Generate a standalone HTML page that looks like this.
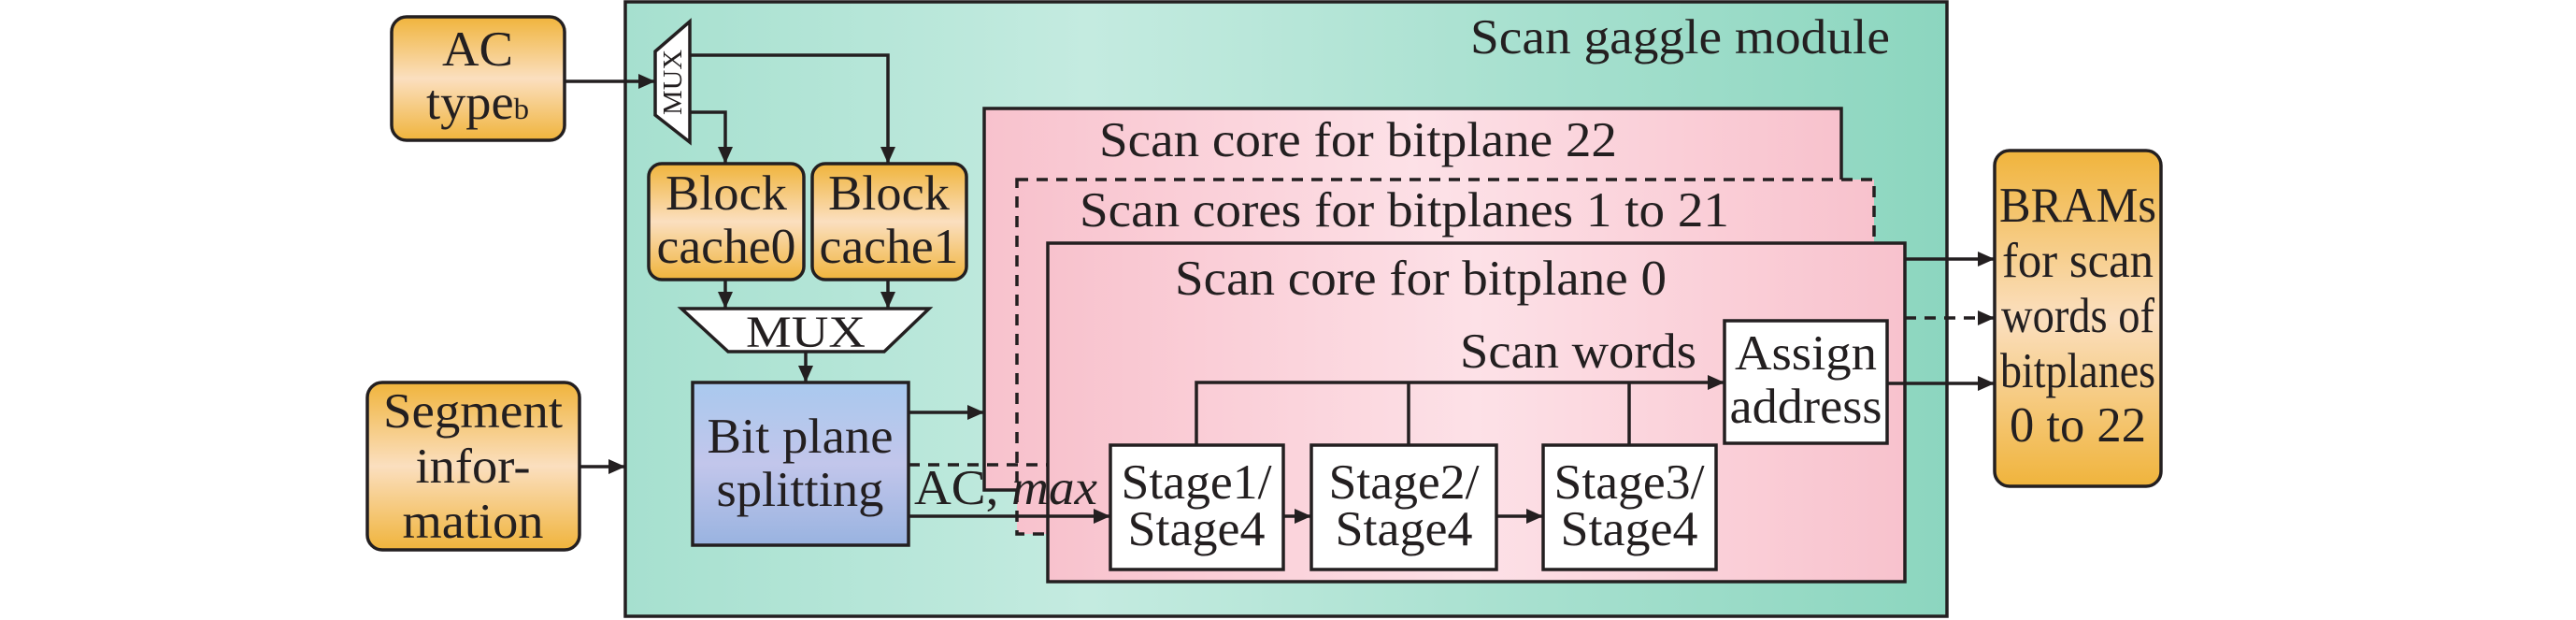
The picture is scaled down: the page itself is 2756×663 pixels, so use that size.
<!DOCTYPE html>
<html><head><meta charset="utf-8"><style>html,body{margin:0;padding:0;background:#fff}svg{display:block}text{font-family:"Liberation Serif","Times New Roman",serif;fill:#231f20}</style></head>
<body>
<svg width="2756" height="663" viewBox="0 0 2756 663" xmlns="http://www.w3.org/2000/svg">
<defs>
<linearGradient id="or" x1="0" y1="0" x2="0" y2="1"><stop offset="0" stop-color="#f0b43c"/><stop offset="0.5" stop-color="#fbdfbf"/><stop offset="1" stop-color="#f0b43c"/></linearGradient>
<linearGradient id="gr" x1="0" y1="0" x2="1" y2="0"><stop offset="0" stop-color="#a6e0cf"/><stop offset="0.35" stop-color="#c4ebe0"/><stop offset="1" stop-color="#8cd6bf"/></linearGradient>
<linearGradient id="pk" x1="0" y1="0" x2="1" y2="0"><stop offset="0" stop-color="#f8c2cd"/><stop offset="0.5" stop-color="#fde1e7"/><stop offset="1" stop-color="#f8c2cd"/></linearGradient>
<linearGradient id="bl" x1="0" y1="0" x2="0" y2="1"><stop offset="0" stop-color="#a9c9ee"/><stop offset="0.5" stop-color="#c2c6eb"/><stop offset="1" stop-color="#99b3e0"/></linearGradient>
<marker id="a" markerWidth="18" markerHeight="16" refX="18" refY="8" orient="auto" markerUnits="userSpaceOnUse"><path d="M0,0 L18,8 L0,16 Z" fill="#231f20"/></marker>
</defs>
<g stroke="#231f20" stroke-width="3.5" fill="none">
<rect x="669" y="2" width="1414" height="657" fill="url(#gr)"/>
<rect x="419" y="18" width="185" height="132" rx="16" fill="url(#or)"/>
<rect x="393" y="409" width="227" height="179" rx="16" fill="url(#or)"/>
<rect x="2134" y="161" width="178" height="359" rx="16" fill="url(#or)"/>
<rect x="1053" y="116" width="917" height="408" fill="url(#pk)"/>
<rect x="1088" y="192" width="917" height="379" fill="url(#pk)" stroke-dasharray="12,9"/>
<rect x="1121" y="260" width="917" height="362" fill="url(#pk)"/>
<path d="M701,55 L738,23 L738,152 L701,123 Z" fill="#fff"/>
<rect x="694" y="175" width="166" height="124" rx="14" fill="url(#or)"/>
<rect x="869" y="175" width="165" height="124" rx="14" fill="url(#or)"/>
<path d="M729,330 L994,330 L946,376 L779,376 Z" fill="#fff"/>
<rect x="741" y="409" width="231" height="174" fill="url(#bl)"/>
<rect x="1188" y="476" width="185" height="133" fill="#fff"/>
<rect x="1403" y="476" width="198" height="133" fill="#fff"/>
<rect x="1651" y="476" width="185" height="133" fill="#fff"/>
<rect x="1845" y="343" width="174" height="131" fill="#fff"/>
<path d="M604,87 L701,87" marker-end="url(#a)"/>
<path d="M738,59 L950,59 L950,175" marker-end="url(#a)"/>
<path d="M738,120 L776,120 L776,175" marker-end="url(#a)"/>
<path d="M776,299 L776,330" marker-end="url(#a)"/>
<path d="M950,299 L950,330" marker-end="url(#a)"/>
<path d="M862,376 L862,409" marker-end="url(#a)"/>
<path d="M620,499 L669,499" marker-end="url(#a)"/>
<path d="M972,441 L1053,441" marker-end="url(#a)"/>
<path d="M972,497 L1121,497" stroke-dasharray="12,9"/>
<path d="M972,552 L1188,552" marker-end="url(#a)"/>
<path d="M1373,552 L1403,552" marker-end="url(#a)"/>
<path d="M1601,552 L1651,552" marker-end="url(#a)"/>
<path d="M1280,476 L1280,409 L1845,409" marker-end="url(#a)"/>
<path d="M1507,476 L1507,409 M1743,476 L1743,409"/>
<path d="M2038,277 L2134,277" marker-end="url(#a)"/>
<path d="M2038,340 L2134,340" stroke-dasharray="12,9" marker-end="url(#a)"/>
<path d="M2019,410 L2134,410" marker-end="url(#a)"/>
</g>
<g font-size="53" text-anchor="middle">
<text x="511" y="70" textLength="76" lengthAdjust="spacingAndGlyphs">AC</text>
<text x="511" y="127" textLength="110" lengthAdjust="spacingAndGlyphs">type<tspan font-size="32">b</tspan></text>
<text x="506" y="457" textLength="192" lengthAdjust="spacingAndGlyphs">Segment</text>
<text x="506" y="516" textLength="123" lengthAdjust="spacingAndGlyphs">infor-</text>
<text x="506" y="575" textLength="151" lengthAdjust="spacingAndGlyphs">mation</text>
<text x="777" y="224" textLength="130" lengthAdjust="spacingAndGlyphs">Block</text>
<text x="777" y="281" textLength="149" lengthAdjust="spacingAndGlyphs">cache0</text>
<text x="951" y="224" textLength="130" lengthAdjust="spacingAndGlyphs">Block</text>
<text x="951" y="281" textLength="149" lengthAdjust="spacingAndGlyphs">cache1</text>
<text x="862" y="371" font-size="48" textLength="128" lengthAdjust="spacingAndGlyphs">MUX</text>
<text x="856" y="484" textLength="199" lengthAdjust="spacingAndGlyphs">Bit plane</text>
<text x="856" y="541" textLength="179" lengthAdjust="spacingAndGlyphs">splitting</text>
<text x="1280" y="533" textLength="161" lengthAdjust="spacingAndGlyphs">Stage1/</text>
<text x="1280" y="583" textLength="147" lengthAdjust="spacingAndGlyphs">Stage4</text>
<text x="1502" y="533" textLength="161" lengthAdjust="spacingAndGlyphs">Stage2/</text>
<text x="1502" y="583" textLength="147" lengthAdjust="spacingAndGlyphs">Stage4</text>
<text x="1743" y="533" textLength="161" lengthAdjust="spacingAndGlyphs">Stage3/</text>
<text x="1743" y="583" textLength="147" lengthAdjust="spacingAndGlyphs">Stage4</text>
<text x="1932" y="395" textLength="152" lengthAdjust="spacingAndGlyphs">Assign</text>
<text x="1932" y="452" textLength="163" lengthAdjust="spacingAndGlyphs">address</text>
<text x="2223" y="237" textLength="168" lengthAdjust="spacingAndGlyphs">BRAMs</text>
<text x="2223" y="296" textLength="162" lengthAdjust="spacingAndGlyphs">for scan</text>
<text x="2223" y="355" textLength="164" lengthAdjust="spacingAndGlyphs">words of</text>
<text x="2223" y="414" textLength="166" lengthAdjust="spacingAndGlyphs">bitplanes</text>
<text x="2223" y="472" textLength="146" lengthAdjust="spacingAndGlyphs">0 to 22</text>
</g>
<g font-size="53">
<text x="1573" y="57" textLength="449" lengthAdjust="spacingAndGlyphs">Scan gaggle module</text>
<text x="1176" y="167" textLength="554" lengthAdjust="spacingAndGlyphs">Scan core for bitplane 22</text>
<text x="1155" y="242" textLength="695" lengthAdjust="spacingAndGlyphs">Scan cores for bitplanes 1 to 21</text>
<text x="1257" y="315" textLength="526" lengthAdjust="spacingAndGlyphs">Scan core for bitplane 0</text>
<text x="1562" y="393" textLength="253" lengthAdjust="spacingAndGlyphs">Scan words</text>
<text x="978" y="539" textLength="196" lengthAdjust="spacingAndGlyphs">AC, <tspan font-style="italic">max</tspan></text>
</g>
<text x="0" y="0" font-size="28" text-anchor="middle" textLength="70" lengthAdjust="spacingAndGlyphs" transform="translate(729,88) rotate(-90)">MUX</text>
</svg>
</body></html>
